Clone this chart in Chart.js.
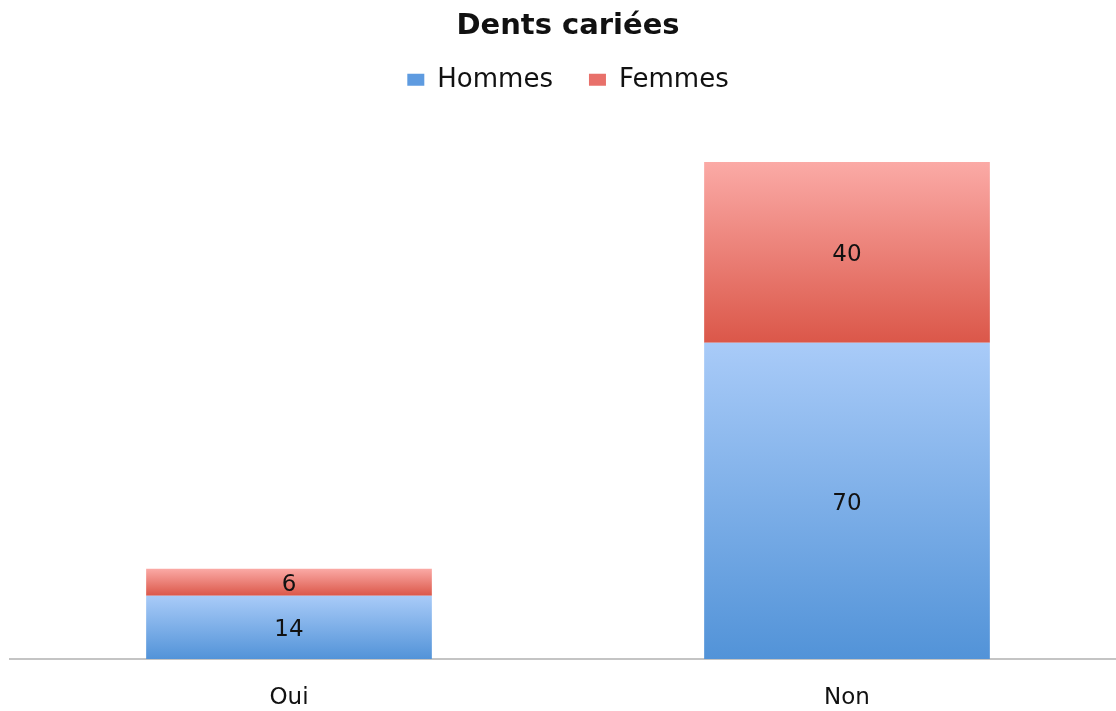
<!DOCTYPE html>
<html>
<head>
<meta charset="utf-8">
<script src="https://cdn.jsdelivr.net/npm/chart.js@4.4.1/dist/chart.umd.min.js"></script>
<style>
  html, body { margin: 0; padding: 0; background: #fff; overflow: hidden; }
  #wrap { width: 1126px; height: 711px; }
</style>
</head>
<body>
<div id="wrap"><canvas id="canvas"></canvas></div>
<script>
const categories = ['Oui', 'Non']
const hommes = [14, 70]
const femmes = [6, 40]
const legendColors = ['#5e9be0', '#e8706a']

const FONT = '"DejaVu Sans", Verdana, sans-serif'

// vertical gradient over one stacked segment
function segmentGradient(ctx, bottomVal, topVal, light, dark) {
  const chart = ctx.chart
  const y = chart.scales.y
  if (!chart.chartArea || !y) return dark
  const top = y.getPixelForValue(topVal)
  const bottom = y.getPixelForValue(bottomVal)
  if (!isFinite(top) || !isFinite(bottom) || top === bottom) return dark
  const g = chart.ctx.createLinearGradient(0, top, 0, bottom)
  g.addColorStop(0, light)
  g.addColorStop(1, dark)
  return g
}

const valueLabels = {
  id: 'valueLabels',
  afterDatasetsDraw(chart) {
    const { ctx } = chart
    ctx.save()
    ctx.font = '23px ' + FONT
    ctx.fillStyle = '#111'
    ctx.textAlign = 'center'
    ctx.textBaseline = 'middle'
    chart.data.datasets.forEach((ds, i) => {
      chart.getDatasetMeta(i).data.forEach((bar, j) => {
        const p = bar.getCenterPoint()
        ctx.fillText(ds.data[j], p.x, p.y + 3)
      })
    })
    ctx.restore()
  }
}

// fixed legend height so the plot area starts where the reference does
const legendSpace = {
  id: 'legendSpace',
  beforeInit(chart) {
    const fit = chart.legend.fit
    chart.legend.fit = function () {
      fit.bind(chart.legend)()
      this.height = 86
    }
  }
}

new Chart(document.getElementById('canvas'), {
  type: 'bar',
  data: {
    labels: categories,
    datasets: [
      {
        label: 'Hommes',
        data: hommes,
        backgroundColor: (c) => c.type === 'data'
          ? segmentGradient(c, 0, hommes[c.dataIndex], '#a9cbf8', '#5293d8')
          : legendColors[0],
        borderWidth: 0
      },
      {
        label: 'Femmes',
        data: femmes,
        backgroundColor: (c) => c.type === 'data'
          ? segmentGradient(c, hommes[c.dataIndex], hommes[c.dataIndex] + femmes[c.dataIndex], '#fbaaa6', '#db5749')
          : legendColors[1],
        borderWidth: 0
      }
    ]
  },
  options: {
    responsive: true,
    maintainAspectRatio: false,
    animation: false,
    layout: { padding: { left: 10, right: 0, top: 0, bottom: 0 } },
    datasets: { bar: { categoryPercentage: 1, barPercentage: 0.512 } },
    scales: {
      x: {
        stacked: true,
        grid: { display: false },
        border: { display: true, color: '#c4c4c4', width: 2 },
        ticks: { color: '#111', font: { family: FONT, size: 23 }, padding: 17 },
        afterFit(scale) { scale.height = 52 }
      },
      y: {
        stacked: true,
        display: false,
        min: 0,
        max: 120
      }
    },
    plugins: {
      title: {
        display: true,
        text: 'Dents cariées',
        color: '#111',
        font: { family: FONT, size: 29, weight: 'bold' },
        padding: { top: 9, bottom: -13 }
      },
      legend: {
        display: true,
        labels: {
          color: '#111',
          font: { family: FONT, size: 26 },
          boxWidth: 17,
          boxHeight: 12,
          padding: 36,
          generateLabels(chart) {
            return chart.data.datasets.map((ds, i) => ({
              text: ds.label,
              fillStyle: legendColors[i],
              strokeStyle: legendColors[i],
              lineWidth: 0,
              fontColor: '#111',
              datasetIndex: i,
              hidden: false
            }))
          }
        }
      },
      tooltip: { enabled: false }
    }
  },
  plugins: [valueLabels, legendSpace]
})
</script>
</body>
</html>
